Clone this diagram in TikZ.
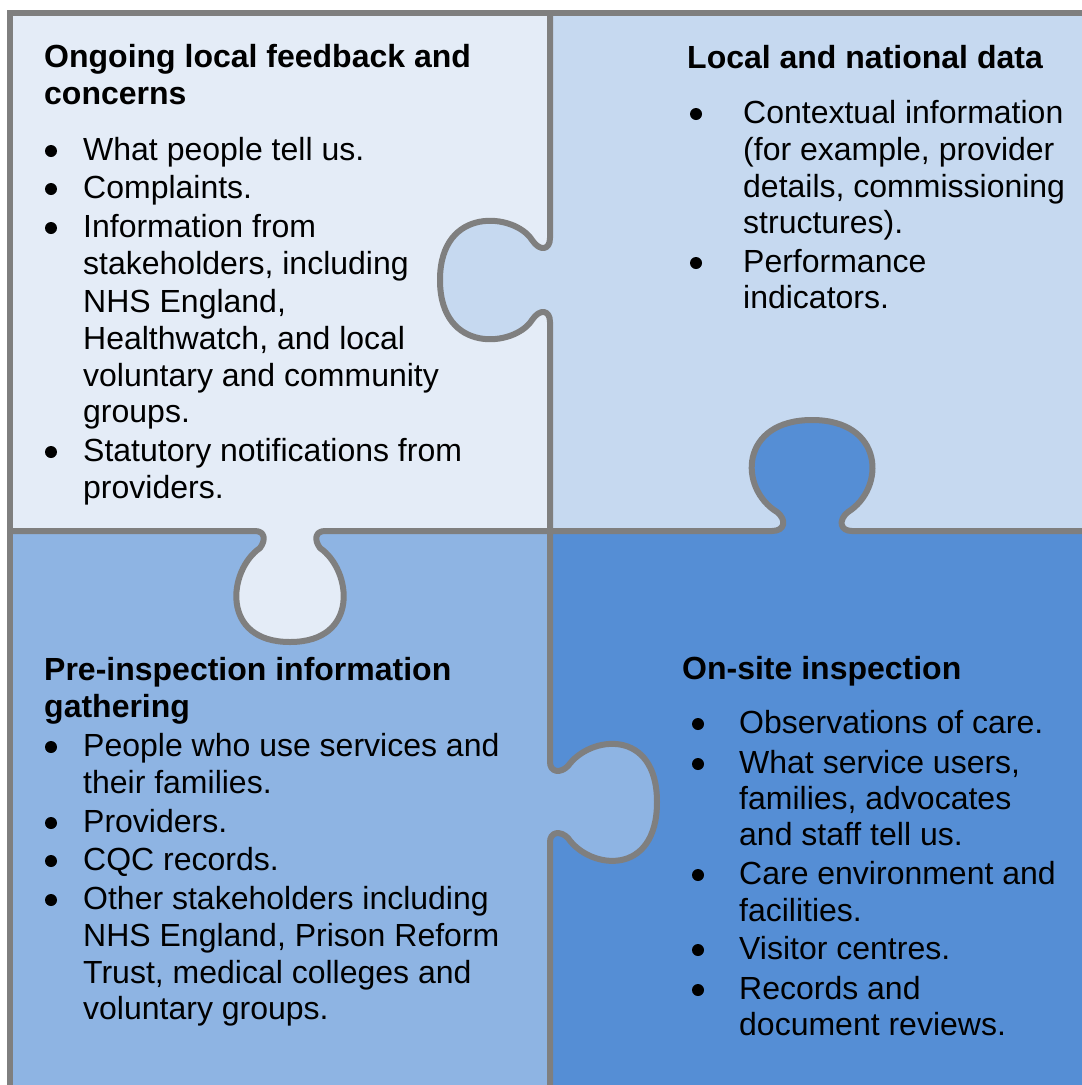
\documentclass[tikz,border=0pt]{standalone}
\usepackage{fontspec}
\setmainfont{Liberation Sans}
\definecolor{cTL}{HTML}{E4ECF7}
\definecolor{cTR}{HTML}{C6D9F0}
\definecolor{cBL}{HTML}{8EB4E3}
\definecolor{cBR}{HTML}{558ED5}
\definecolor{cLine}{HTML}{7F7F7F}
\tikzset{
  frameline/.style={draw=cLine, line width=6pt, line join=round},
  ttl/.style={font=\fontsize{32}{37}\selectfont\bfseries, anchor=base west, inner sep=0pt},
  txt/.style={font=\fontsize{32}{37}\selectfont, anchor=base west, inner sep=0pt},
  bul/.style={circle, fill=black, minimum size=12pt, inner sep=0pt}
}
\begin{document}
\begin{tikzpicture}[x=1pt,y=-1pt]
\useasboundingbox[fill=white] (0,0) rectangle (1082,1085);
% quadrants
\fill[cTL] (10,13) rectangle (550,531);
\fill[cTR] (550,13) rectangle (1082,531);
\fill[cBL] (10,531) rectangle (550,1085);
\fill[cBR] (550,531) rectangle (1082,1085);
% tab fills
\fill[cTR] (550,238) .. controls (550,250) and (540,252) .. (532,240)
  .. controls (515,213) and (440,205) .. (440,280)
  .. controls (440,355) and (515,347) .. (532,320)
  .. controls (540,308) and (550,310) .. (550,322) -- cycle;
\fill[cBR] (772,531) .. controls (785,531) and (787,520) .. (777,512)
  .. controls (738,488) and (740,420) .. (812,420)
  .. controls (884,420) and (886,488) .. (848,512)
  .. controls (838,520) and (840,531) .. (852,531) -- cycle;
\fill[cTL] (255,531) .. controls (265,531) and (266,540) .. (260,548)
  .. controls (228,570) and (220,642) .. (290,642)
  .. controls (360,642) and (352,570) .. (320,548)
  .. controls (314,540) and (315,531) .. (325,531) -- cycle;
\fill[cBL] (550,762) .. controls (550,772) and (560,774) .. (568,766)
  .. controls (590,735) and (657,728) .. (657,802)
  .. controls (657,877) and (590,870) .. (568,838)
  .. controls (560,830) and (550,832) .. (550,842) -- cycle;
% outer frame
\draw[frameline, line join=miter] (10,1085) -- (10,13) -- (1082,13);
% dividers with tabs
\draw[frameline] (550,13) -- (550,238) .. controls (550,250) and (540,252) .. (532,240)
  .. controls (515,213) and (440,205) .. (440,280)
  .. controls (440,355) and (515,347) .. (532,320)
  .. controls (540,308) and (550,310) .. (550,322) -- (550,531);
\draw[frameline] (550,531) -- (772,531) .. controls (785,531) and (787,520) .. (777,512)
  .. controls (738,488) and (740,420) .. (812,420)
  .. controls (884,420) and (886,488) .. (848,512)
  .. controls (838,520) and (840,531) .. (852,531) -- (1082,531);
\draw[frameline] (10,531) -- (255,531) .. controls (265,531) and (266,540) .. (260,548)
  .. controls (228,570) and (220,642) .. (290,642)
  .. controls (360,642) and (352,570) .. (320,548)
  .. controls (314,540) and (315,531) .. (325,531) -- (550,531);
\draw[frameline] (550,531) -- (550,762) .. controls (550,772) and (560,774) .. (568,766)
  .. controls (590,735) and (657,728) .. (657,802)
  .. controls (657,877) and (590,870) .. (568,838)
  .. controls (560,830) and (550,832) .. (550,842) -- (550,1085);
% top-left text
\node[ttl] (tlt1) at (44,67) {Ongoing local feedback and};
\node[ttl] (tlt2) at (44,104) {concerns};
\foreach \yy/\lbl [count=\i] in {160/{What people tell us.}, 198/{Complaints.}, 237/{Information from},
  274/{stakeholders, including}, 312/{NHS England,}, 349/{Healthwatch, and local},
  386/{voluntary and community}, 422/{groups.}, 461/{Statutory notifications from}, 498/{providers.}}
  \node[txt] (tl\i) at (83,\yy) {\lbl};
\foreach \yy [count=\i] in {160,198,237,461}
  \node[bul] (tlb\i) at (51,\yy-9) {};
% top-right text
\node[ttl] (trt1) at (687,68) {Local and national data};
\foreach \yy/\lbl [count=\i] in {123/{Contextual information}, 160/{(for example, provider},
  197/{details, commissioning}, 233/{structures).}, 272/{Performance}, 308/{indicators.}}
  \node[txt] (tr\i) at (743,\yy) {\lbl};
\foreach \yy [count=\i] in {123,272}
  \node[bul] (trb\i) at (696,\yy-9) {};
% bottom-left text
\node[ttl] (blt1) at (44,680) {Pre-inspection information};
\node[ttl] (blt2) at (44,717) {gathering};
\foreach \yy/\lbl [count=\i] in {756/{People who use services and}, 793/{their families.},
  832/{Providers.}, 870/{CQC records.}, 909/{Other stakeholders including},
  946/{NHS England, Prison Reform}, 983/{Trust, medical colleges and}, 1019/{voluntary groups.}}
  \node[txt] (bl\i) at (83,\yy) {\lbl};
\foreach \yy [count=\i] in {756,832,870,909}
  \node[bul] (blb\i) at (51,\yy-9) {};
% bottom-right text
\node[ttl] (brt1) at (682,679) {On-site inspection};
\foreach \yy/\lbl [count=\i] in {733/{Observations of care.}, 773/{What service users,},
  809/{families, advocates}, 845/{and staff tell us.}, 884/{Care environment and},
  921/{facilities.}, 959/{Visitor centres.}, 999/{Records and}, 1035/{document reviews.}}
  \node[txt] (br\i) at (739,\yy) {\lbl};
\foreach \yy [count=\i] in {733,773,884,959,999}
  \node[bul] (brb\i) at (698,\yy-9) {};
\end{tikzpicture}
\end{document}
